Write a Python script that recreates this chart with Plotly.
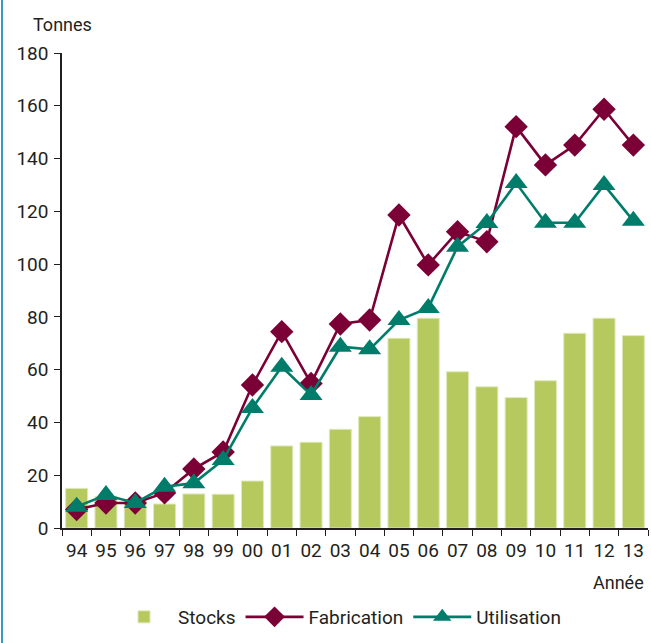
import plotly.graph_objects as go

# Années (deux chiffres)
annees = ["94", "95", "96", "97", "98", "99", "00", "01", "02", "03",
          "04", "05", "06", "07", "08", "09", "10", "11", "12", "13"]

# Tonnes
stocks = [15.0, 12.0, 11.0, 9.1, 12.9, 12.8, 17.8, 31.1, 32.5, 37.4,
          42.2, 71.9, 79.5, 59.2, 53.5, 49.4, 55.8, 73.8, 79.5, 72.9]
fabrication = [7.0, 9.5, 9.5, 13.3, 22.4, 28.8, 54.2, 74.4, 54.8, 77.3,
               78.8, 118.6, 99.7, 112.3, 108.5, 152.1, 137.6, 145.1, 158.7, 145.1]
utilisation = [8.1, 12.5, 9.5, 15.6, 17.0, 25.8, 45.5, 61.1, 50.4, 68.7,
               67.7, 78.8, 83.4, 106.6, 115.6, 130.7, 115.7, 115.7, 130.0, 116.4]

y_ticks = [0, 20, 40, 60, 80, 100, 120, 140, 160, 180]

FONT = "Roboto, sans-serif"
TXT = "#231f20"
VERT = "#b5c95f"
BORDEAUX = "#7b0036"
SARCELLE = "#007d6a"
FS = 19

fig = go.Figure()
fig.add_trace(go.Bar(
    x=annees, y=stocks, name="Stocks",
    marker=dict(color=VERT, line=dict(color="#dfe8b8", width=1)),
))
fig.add_trace(go.Scatter(
    x=annees, y=fabrication, name="Fabrication", mode="lines+markers",
    line=dict(color=BORDEAUX, width=2.6),
    marker=dict(symbol="diamond", size=18, color=BORDEAUX),
))
fig.add_trace(go.Scatter(
    x=annees, y=utilisation, name="Utilisation", mode="lines+markers",
    line=dict(color=SARCELLE, width=2.6),
    marker=dict(symbol="triangle-up", size=20, color=SARCELLE),
))

fig.update_layout(
    width=651, height=643,
    margin=dict(l=62, r=3, t=53, b=115, autoexpand=False),
    paper_bgcolor="white", plot_bgcolor="white",
    font=dict(family=FONT, color=TXT, size=FS),
    bargap=0.25,
    showlegend=True,
    legend=dict(
        orientation="h", x=(110 - 62) / 586, xanchor="left",
        yref="container", y=26 / 643, yanchor="middle",
        font=dict(size=FS, family=FONT, color=TXT),
        itemwidth=58, tracegroupgap=0,
    ),
    xaxis=dict(
        type="category", range=[-0.5, 19.5],
        showline=True, linecolor="#231f20", linewidth=1.5,
        ticks="outside", ticklen=6, tickcolor="#231f20", tickwidth=1.2,
        tickson="boundaries", showgrid=False, zeroline=False,
        ticklabelstandoff=4, tickangle=0,
        tickfont=dict(size=FS, family=FONT, color=TXT),
    ),
    yaxis=dict(
        range=[0, 180], tickvals=y_ticks,
        showline=True, linecolor="#231f20", linewidth=1.5,
        ticks="outside", ticklen=6, tickcolor="#231f20", tickwidth=1.2,
        showgrid=False, zeroline=False, ticklabelstandoff=2,
        tickfont=dict(size=FS, family=FONT, color=TXT),
    ),
    annotations=[
        dict(text="Tonnes", xref="paper", yref="paper", x=0.0, y=1 + 28 / 475,
             xanchor="center", yanchor="middle", showarrow=False,
             font=dict(size=18, family=FONT, color=TXT)),
        dict(text="Année", xref="paper", yref="paper", x=(646 - 62) / 586,
             y=-54 / 475, xanchor="right", yanchor="middle", showarrow=False,
             font=dict(size=18, family=FONT, color=TXT)),
    ],
    shapes=[
        # filet bleu du cadre gauche
        dict(type="line", xref="paper", yref="paper",
             x0=-60 / 586, x1=-60 / 586, y0=-115 / 475, y1=1 + 53 / 475,
             line=dict(color="#3a98c4", width=2)),
    ],
)

fig.write_html("out.html")
